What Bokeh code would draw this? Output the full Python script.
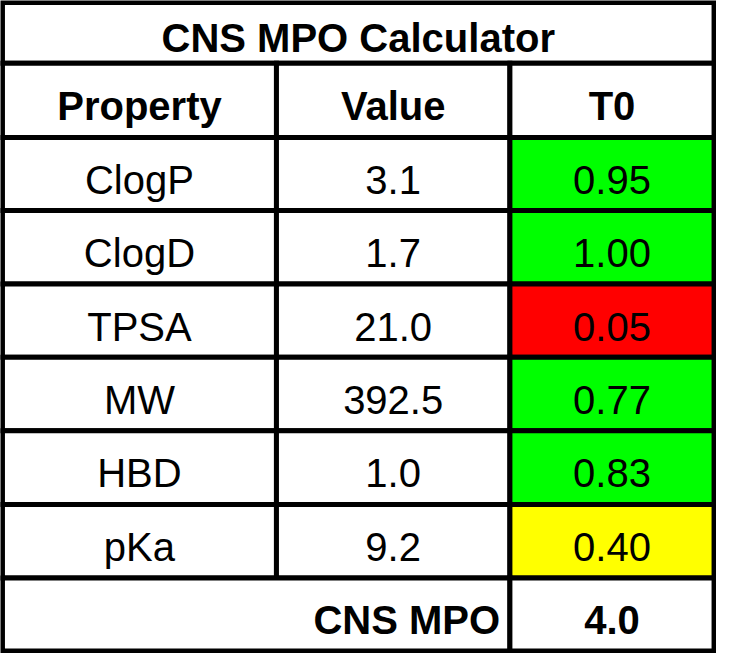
from bokeh.plotting import figure
from bokeh.models import Range1d
from bokeh.core.properties import value
from bokeh.embed import file_html
from bokeh.resources import INLINE

title = "CNS MPO Calculator"
headers = ["Property", "Value", "T0"]
properties = ["ClogP", "ClogD", "TPSA", "MW", "HBD", "pKa"]
values = ["3.1", "1.7", "21.0", "392.5", "1.0", "9.2"]
scores = ["0.95", "1.00", "0.05", "0.77", "0.83", "0.40"]
score_colors = ["#00FF00", "#00FF00", "#FF0000", "#00FF00", "#00FF00", "#FFFF00"]
total_label = "CNS MPO"
total_value = "4.0"

# layout (reference pixel grid)
W, H = 733, 670
xs = [2, 282.5, 521.5, 730.5]
ys = [2, 64.5, 140.5, 215.5, 291, 366, 441.5, 517, 592.5, 667.5]

PW, PH = 716, 653
sc = PW / W

p = figure(width=PW, height=PH, output_backend="svg", toolbar_location=None,
           x_range=Range1d(0, W), y_range=Range1d(H, 0), min_border=0)
p.axis.visible = False
p.grid.visible = False
p.outline_line_color = None
p.background_fill_color = "white"

LW = 5
FONT = value("Liberation Sans")
FPX = 41
FS = f"{FPX*sc:.1f}px"
DY = 6  # shift so that cap centre sits at the cell centre

left, right, top, bottom, fills = [], [], [], [], []
left.append(xs[0]); right.append(xs[3]); top.append(ys[0]); bottom.append(ys[1]); fills.append("white")
for r in range(7):
    for c in range(3):
        left.append(xs[c]); right.append(xs[c+1]); top.append(ys[r+1]); bottom.append(ys[r+2])
        fills.append(score_colors[r-1] if (r > 0 and c == 2) else "white")
left.append(xs[0]); right.append(xs[2]); top.append(ys[8]); bottom.append(ys[9]); fills.append("white")
left.append(xs[2]); right.append(xs[3]); top.append(ys[8]); bottom.append(ys[9]); fills.append("white")

p.quad(left=left, right=right, top=top, bottom=bottom, fill_color=fills,
       line_color="black", line_width=LW, line_join="miter")

cx = [(xs[i] + xs[i+1]) / 2 for i in range(3)]
cy = [(ys[i] + ys[i+1]) / 2 for i in range(9)]

def txt(x, y, t, bold=False, align="center"):
    p.text(x=[x], y=[y + DY], text=[t], text_font=FONT, text_font_size=FS,
           text_font_style="bold" if bold else "normal",
           text_align=align, text_baseline="middle", text_color="black")

txt((xs[0] + xs[3]) / 2, cy[0] - 0.5, title, bold=True)
for c in range(3):
    txt(cx[c], cy[1], headers[c], bold=True)
for r in range(6):
    txt(cx[0], cy[r+2], properties[r])
    txt(cx[1], cy[r+2], values[r])
    txt(cx[2], cy[r+2], scores[r])
txt(xs[2] - 10, cy[8], total_label, bold=True, align="right")
txt(cx[2], cy[8], total_value, bold=True)

open("out.html", "w").write(file_html(p, INLINE))
